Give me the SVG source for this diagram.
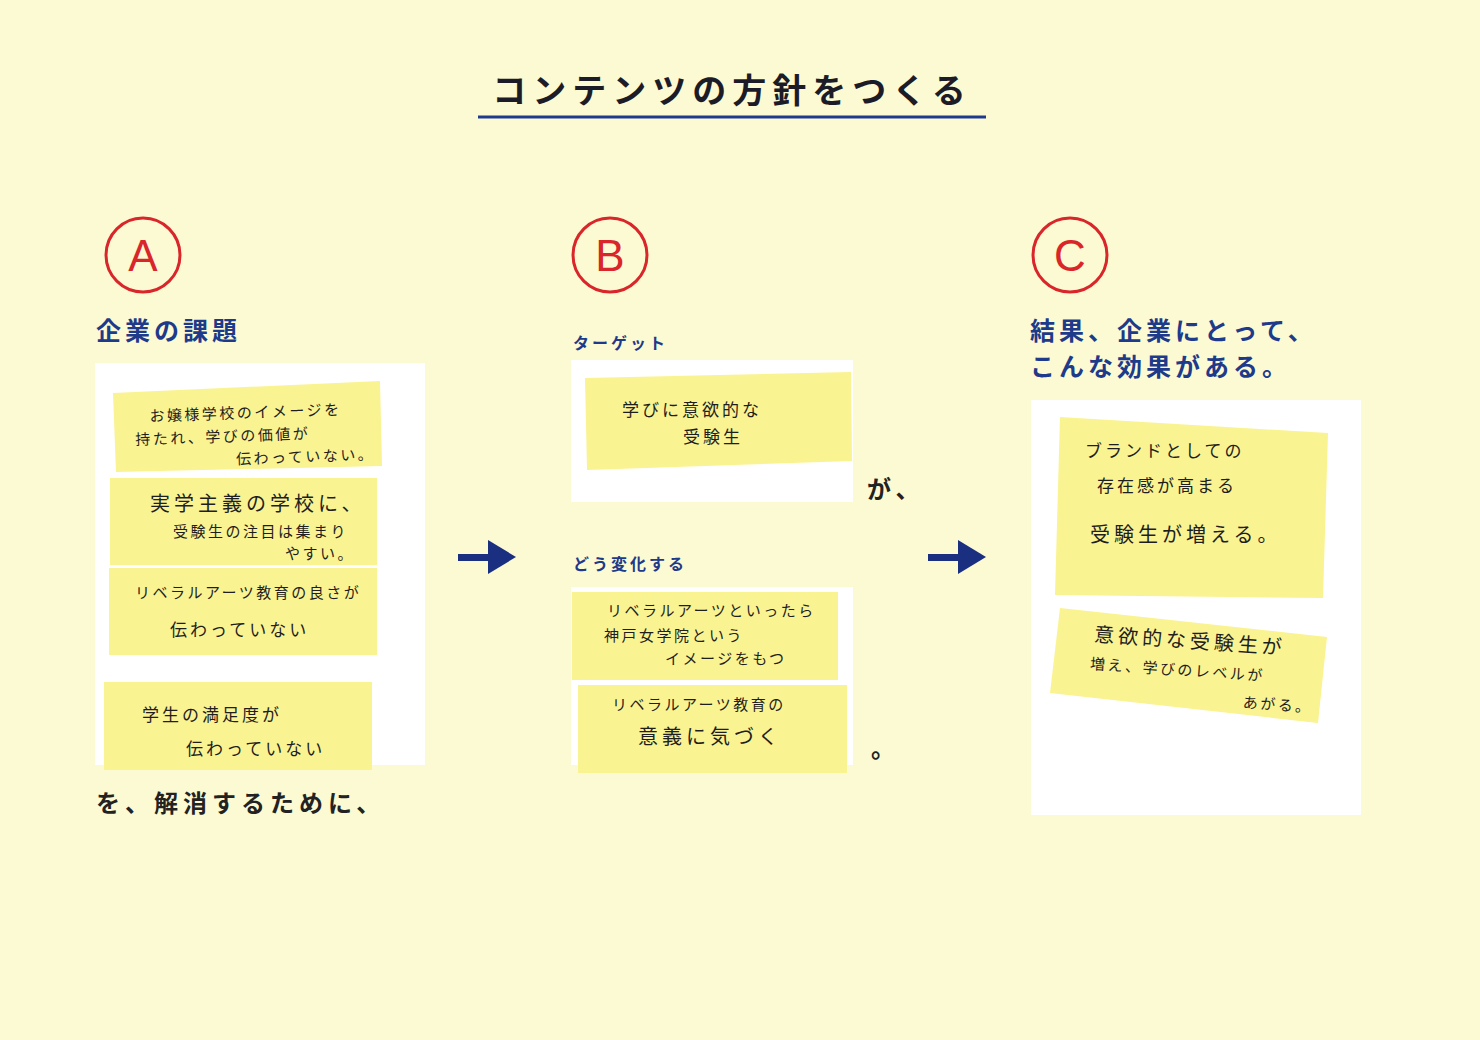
<svg xmlns="http://www.w3.org/2000/svg" width="1480" height="1040" viewBox="0 0 1480 1040">
<style>
.jp{font-family:"Noto Sans CJK JP","Noto Sans",sans-serif}
.title{font-size:34px;font-weight:700;fill:#1c1c28;letter-spacing:6px}
.head{font-size:25px;font-weight:700;fill:#1e3a8a;letter-spacing:4px}
.sub{font-size:16px;font-weight:700;fill:#1e3a8a;letter-spacing:3px}
.body{font-size:24px;font-weight:700;fill:#222;letter-spacing:5px}
.circ{fill:none;stroke:#d8262b;stroke-width:3}
.letter{font-family:"Liberation Sans",Arial,sans-serif;font-size:44px;fill:#d8262b;text-anchor:middle}
.panel{fill:#ffffff}
.note{fill:#faf391}
.hw{font-size:15px;fill:#1e1e1e;letter-spacing:2.5px}
.hwm{font-size:17px;fill:#1e1e1e;letter-spacing:3px}
.hwl{font-size:20px;fill:#1e1e1e;letter-spacing:4px}
.arrow{fill:#1a2f80}
</style>
<rect width="1480" height="1040" fill="#fcfad2"/>

<g id="title">
<text class="jp title" x="732" y="103" text-anchor="middle">コンテンツの方針をつくる</text>
<line x1="478" y1="117" x2="986" y2="117" stroke="#1e3a8f" stroke-width="3"/>
</g>

<g id="sectionA">
<circle class="circ" cx="143" cy="255" r="37"/>
<text class="letter" x="143" y="271">A</text>
<text class="jp head" x="96" y="340">企業の課題</text>
<rect class="panel" x="95" y="363" width="330" height="402"/>
</g>
<g id="noteA1">
<polygon class="note" points="113,393 380,381 382,466 116,472"/>
<g transform="rotate(-2 250 430)">
<text class="jp hw" x="150" y="418">お嬢様学校のイメージを</text>
<text class="jp hw" x="135" y="441">持たれ、学びの価値が</text>
<text class="jp hw" x="235" y="464">伝わっていない。</text>
</g>
</g>
<g id="noteA2">
<rect class="note" x="110" y="478" width="267" height="87"/>
<text class="jp hwl" x="150" y="511">実学主義の学校に、</text>
<text class="jp hw" x="173" y="537">受験生の注目は集まり</text>
<text class="jp hw" x="285" y="559">やすい。</text>
</g>
<g id="noteA3">
<rect class="note" x="109" y="568" width="268" height="87"/>
<text class="jp hw" x="135" y="598">リベラルアーツ教育の良さが</text>
<text class="jp hwm" x="170" y="636">伝わっていない</text>
</g>
<g id="noteA4">
<rect class="note" x="104" y="682" width="268" height="88"/>
<text class="jp hwm" x="142" y="721">学生の満足度が</text>
<text class="jp hwm" x="186" y="755">伝わっていない</text>
</g>
<text class="jp body" x="96" y="812">を、解消するために、</text>

<g id="connectors">
<rect class="arrow" x="458" y="554" width="34" height="7"/>
<polygon class="arrow" points="488,540 516,557 488,574"/>
<rect class="arrow" x="928" y="554" width="34" height="7"/>
<polygon class="arrow" points="958,540 986,557 958,574"/>
</g>

<g id="sectionB">
<circle class="circ" cx="610" cy="255" r="37"/>
<text class="letter" x="610" y="271">B</text>
<text class="jp sub" x="573" y="349">ターゲット</text>
<rect class="panel" x="571" y="360" width="282" height="142"/>
<text class="jp sub" x="573" y="570">どう変化する</text>
<rect class="panel" x="571" y="587" width="282" height="178"/>
</g>
<g id="noteB1">
<polygon class="note" points="585,378 851,372 852,461 587,470"/>
<text class="jp hwm" x="622" y="416">学びに意欲的な</text>
<text class="jp hwm" x="683" y="443">受験生</text>
</g>
<text class="jp body" x="867" y="498">が、</text>
<g id="noteB2">
<rect class="note" x="572" y="592" width="266" height="88"/>
<text class="jp hw" x="607" y="616">リベラルアーツといったら</text>
<text class="jp hw" x="604" y="641">神戸女学院という</text>
<text class="jp hw" x="665" y="664">イメージをもつ</text>
</g>
<g id="noteB3">
<rect class="note" x="578" y="685" width="269" height="88"/>
<text class="jp hw" x="612" y="710">リベラルアーツ教育の</text>
<text class="jp hwl" x="638" y="744">意義に気づく</text>
</g>
<text class="jp body" x="871" y="757">。</text>

<g id="sectionC">
<circle class="circ" cx="1070" cy="255" r="37"/>
<text class="letter" x="1070" y="271">C</text>
<text class="jp head" x="1030" y="340">結果、企業にとって、</text>
<text class="jp head" x="1030" y="376">こんな効果がある。</text>
<rect class="panel" x="1031" y="400" width="330" height="415"/>
</g>
<g id="noteC1">
<polygon class="note" points="1060,417 1328,433 1323,598 1055,595"/>
<text class="jp hwm" x="1085" y="457">ブランドとしての</text>
<text class="jp hwm" x="1097" y="492">存在感が高まる</text>
<text class="jp hwl" x="1090" y="542">受験生が増える。</text>
</g>
<g id="noteC2">
<polygon class="note" points="1060,608 1327,637 1318,723 1050,693"/>
<g transform="rotate(4 1190 670)">
<text class="jp hwl" x="1092" y="648">意欲的な受験生が</text>
<text class="jp hw" x="1090" y="676">増え、学びのレベルが</text>
<text class="jp hw" x="1245" y="704">あがる。</text>
</g>
</g>
</svg>
